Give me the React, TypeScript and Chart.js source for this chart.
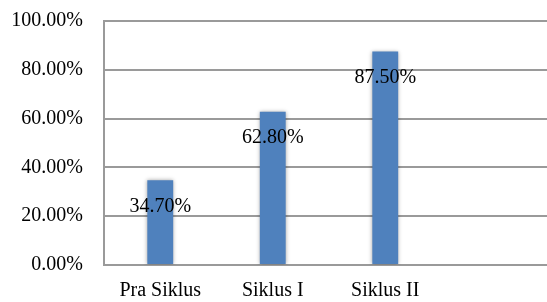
import React, { useEffect, useRef } from "react";
import { Chart, registerables } from "chart.js";

Chart.register(...registerables);

const categories = ["Pra Siklus", "Siklus I", "Siklus II", ""];
const values = [34.7, 62.8, 87.5, null];
const yTicks = [0, 20, 40, 60, 80, 100];

const FONT = "'Liberation Serif', 'Times New Roman', serif";

const shadowPlugin = {
  id: "barShadow",
  beforeDatasetsDraw(chart: any) {
    const ctx = chart.ctx;
    ctx.save();
    ctx.shadowColor = "rgba(0,0,0,0.35)";
    ctx.shadowBlur = 4;
    ctx.shadowOffsetX = 0;
    ctx.shadowOffsetY = 0;
  },
  afterDatasetsDraw(chart: any) {
    chart.ctx.restore();
  },
};

const labelPlugin = {
  id: "valueLabels",
  afterDatasetsDraw(chart: any) {
    const ctx = chart.ctx;
    const meta = chart.getDatasetMeta(0);
    ctx.save();
    ctx.font = `20px ${FONT}`;
    ctx.fillStyle = "#000";
    ctx.textAlign = "center";
    ctx.textBaseline = "middle";
    meta.data.forEach((bar: any, i: number) => {
      const v = values[i];
      if (v == null) return;
      ctx.fillText(v.toFixed(2) + "%", bar.x, bar.y + 26);
    });
    ctx.restore();
  },
};

export default function App() {
  const ref = useRef<HTMLCanvasElement>(null);
  useEffect(() => {
    if (!ref.current) return;
    const chart = new Chart(ref.current, {
      type: "bar",
      data: {
        labels: categories,
        datasets: [
          {
            data: values as any,
            backgroundColor: "#4F81BD",
            barPercentage: 0.46,
            categoryPercentage: 0.5,
          },
        ],
      },
      options: {
        animation: false,
        responsive: false,
        maintainAspectRatio: false,
        layout: { padding: { top: 21, left: 0, right: 0, bottom: 0 } },
        plugins: { legend: { display: false }, tooltip: { enabled: false } },
        scales: {
          x: {
            grid: { display: false, drawTicks: false },
            border: { display: false },
            ticks: { color: "#000", font: { family: FONT, size: 20 }, padding: 14, maxRotation: 0, autoSkip: false },
            afterFit(scale: any) {
              scale.height = 37;
              scale.paddingLeft = 0;
              scale.paddingRight = 0;
            },
          },
          y: {
            min: 0,
            max: 100,
            afterBuildTicks(scale: any) {
              scale.ticks = yTicks.map((v) => ({ value: v }));
            },
            grid: { color: "#9a9a9a", lineWidth: 2, drawTicks: false },
            border: { display: true, color: "#9a9a9a", width: 2 },
            ticks: {
              color: "#000",
              font: { family: FONT, size: 20 },
              padding: 21,
              callback: (v: any) => Number(v).toFixed(2) + "%",
            },
            afterFit(scale: any) {
              scale.width = 104;
              scale.paddingTop = 0;
              scale.paddingBottom = 0;
            },
          },
        },
      },
      plugins: [shadowPlugin, labelPlugin],
    });
    return () => chart.destroy();
  }, []);
  return (
    <div style={{ position: "absolute", left: 0, top: 0, width: 554, height: 302 }}>
      <canvas ref={ref} width={554} height={302} />
    </div>
  );
}
